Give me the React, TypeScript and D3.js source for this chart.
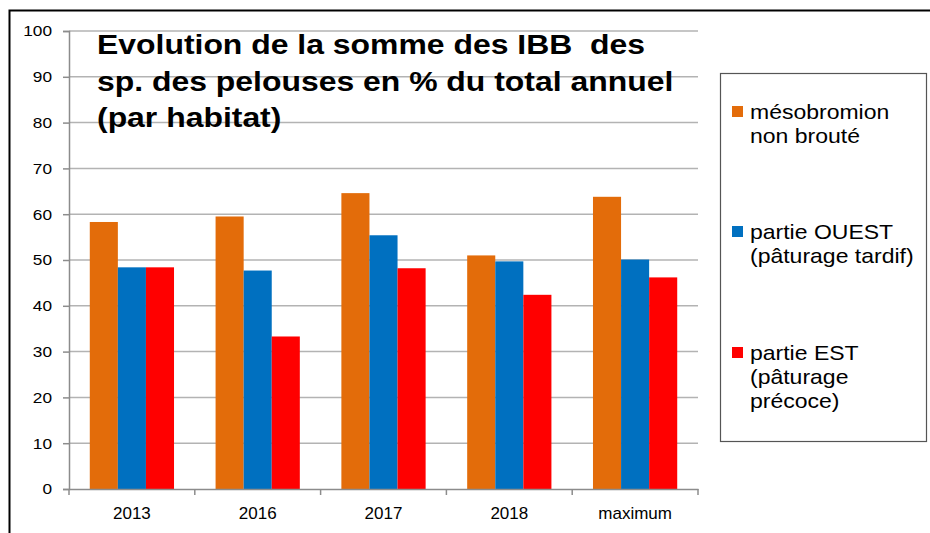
import React, { useEffect, useRef } from "react";
import * as d3 from "d3";

const categories = ["2013", "2016", "2017", "2018", "maximum"];
const seriesNames = [
  ["mésobromion", "non brouté"],
  ["partie OUEST", "(pâturage tardif)"],
  ["partie EST", "(pâturage", "précoce)"],
];
const mesobromion = [58.3, 59.5, 64.6, 51.0, 63.8];
const ouest = [48.4, 47.7, 55.4, 49.7, 50.1];
const est = [48.4, 33.3, 48.2, 42.4, 46.2];
const colors = ["#E36C0A", "#0070C0", "#FF0000"];
const yTicks = [0, 10, 20, 30, 40, 50, 60, 70, 80, 90, 100];
const titleLines = [
  "Evolution de la somme des IBB  des",
  "sp. des pelouses en % du total annuel",
  "(par habitat)",
];

const FONT = "'Liberation Sans', Arial, sans-serif";
const STRETCH = 1.15; // the source picture is a bit wider than tall

const App = () => {
  const svgRef = useRef<SVGSVGElement>(null);

  useEffect(() => {
    const width = 930;
    const height = 533;
    const left = 69;
    const right = 698;
    const top = 31;
    const bottom = 489;
    const series = [mesobromion, ouest, est];

    const svg = d3.select(svgRef.current);
    svg.selectAll("*").remove();
    svg.attr("width", width).attr("height", height).style("display", "block");

    svg.append("rect").attr("width", width).attr("height", height).attr("fill", "white");

    // outer frame
    svg
      .append("rect")
      .attr("x", 9.5)
      .attr("y", 10.5)
      .attr("width", 940)
      .attr("height", 540)
      .attr("fill", "none")
      .attr("stroke", "black")
      .attr("stroke-width", 2);

    const x = d3.scaleBand().domain(categories).range([left, right]).padding(0);
    const xInner = d3
      .scaleBand()
      .domain(["0", "1", "2"])
      .range([0, x.bandwidth()])
      .paddingInner(0)
      .paddingOuter(0.74);
    const y = d3.scaleLinear().domain([0, 100]).range([bottom, top]);

    // gridlines
    svg
      .append("g")
      .selectAll("line")
      .data(yTicks.filter((t) => t > 0))
      .join("line")
      .attr("x1", left)
      .attr("x2", right)
      .attr("y1", (d) => y(d))
      .attr("y2", (d) => y(d))
      .attr("stroke", "#b3b3b3")
      .attr("stroke-width", 1.5);

    // y axis
    const yAxis = svg
      .append("g")
      .attr("transform", `translate(${left},0)`)
      .call(d3.axisLeft(y).tickValues(yTicks).tickSize(6).tickFormat(() => ""));
    yAxis.select(".domain").attr("stroke", "#8c8c8c").attr("stroke-width", 1.5);
    yAxis.selectAll(".tick line").attr("stroke", "#8c8c8c").attr("stroke-width", 1.5);
    svg
      .append("g")
      .selectAll("text")
      .data(yTicks)
      .join("text")
      .attr("transform", (d) => `translate(52,${y(d)}) scale(${STRETCH},1)`)
      .attr("text-anchor", "end")
      .attr("dy", "0.36em")
      .style("font-family", FONT)
      .style("font-size", "15px")
      .attr("fill", "#000")
      .text((d) => d);

    // bars
    series.forEach((vals, si) => {
      svg
        .append("g")
        .selectAll("rect")
        .data(vals)
        .join("rect")
        .attr("x", (_, i) => (x(categories[i]) ?? 0) + (xInner(String(si)) ?? 0))
        .attr("width", xInner.bandwidth())
        .attr("y", (d) => y(d))
        .attr("height", (d) => y(0) - y(d))
        .attr("fill", colors[si]);
    });

    // x axis
    const xAxis = svg
      .append("g")
      .attr("transform", `translate(0,${bottom})`)
      .call(d3.axisBottom(x).tickSize(0).tickPadding(18));
    xAxis.select(".domain").attr("stroke", "#8c8c8c").attr("stroke-width", 1.5);
    xAxis
      .selectAll("text")
      .attr("fill", "#000")
      .style("font-family", FONT)
      .style("font-size", "17px");
    xAxis
      .append("g")
      .selectAll("line")
      .data(d3.range(categories.length + 1))
      .join("line")
      .attr("x1", (i) => left + i * x.step())
      .attr("x2", (i) => left + i * x.step())
      .attr("y1", 0)
      .attr("y2", 6)
      .attr("stroke", "#8c8c8c")
      .attr("stroke-width", 1.5);

    // title
    svg
      .append("g")
      .selectAll("text")
      .data(titleLines)
      .join("text")
      .attr("transform", (_, i) => `translate(97,${54 + i * 36.5}) scale(1.14,1)`)
      .style("font-family", FONT)
      .style("font-weight", "bold")
      .style("font-size", "28px")
      .style("white-space", "pre")
      .attr("fill", "#000")
      .text((d) => d);

    // legend
    const legend = svg.append("g");
    legend
      .append("rect")
      .attr("x", 720.5)
      .attr("y", 73.5)
      .attr("width", 206)
      .attr("height", 368)
      .attr("fill", "white")
      .attr("stroke", "#555")
      .attr("stroke-width", 1.2);
    const itemTops = [112, 232, 353];
    seriesNames.forEach((lines, si) => {
      legend
        .append("rect")
        .attr("x", 732)
        .attr("y", itemTops[si] - 6)
        .attr("width", 11)
        .attr("height", 11)
        .attr("fill", colors[si]);
      legend
        .append("g")
        .selectAll("text")
        .data(lines)
        .join("text")
        .attr("transform", (_, i) => `translate(750,${itemTops[si] + 7 + i * 24}) scale(${STRETCH},1)`)
        .style("font-family", FONT)
        .style("font-size", "20px")
        .attr("fill", "#000")
        .text((d) => d);
    });
  }, []);

  return <svg ref={svgRef} style={{ position: "absolute", left: 0, top: 0 }} />;
};

export default App;
